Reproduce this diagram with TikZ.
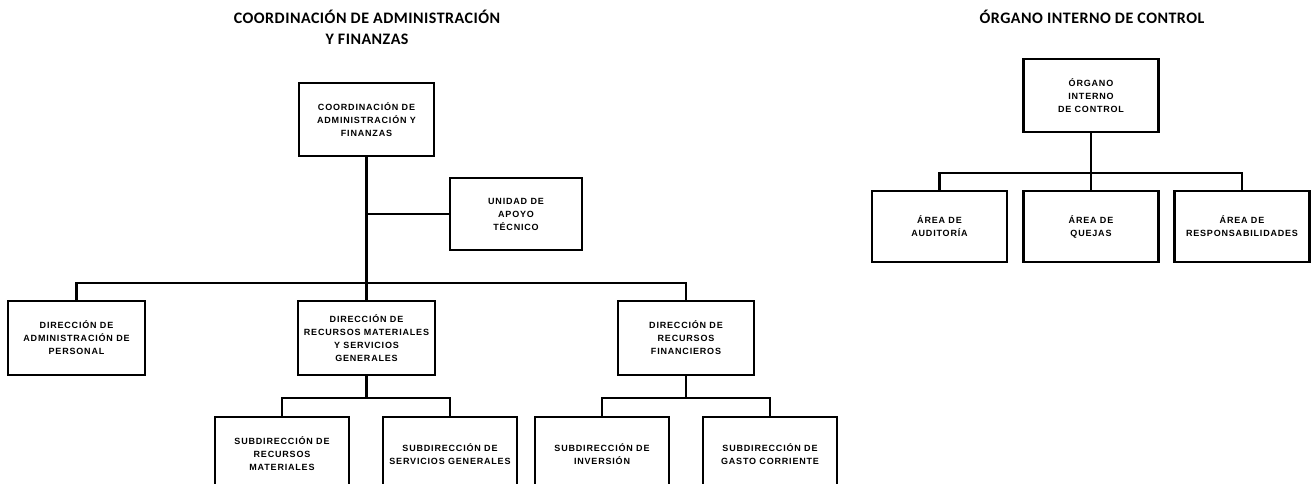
\documentclass[tikz,border=0pt]{standalone}
\usepackage{fontspec}
\newfontfamily\boxfont[LetterSpace=9]{Liberation Sans}
\newfontfamily\titlefont[LetterSpace=3]{Carlito}
\begin{document}
\begin{tikzpicture}[x=1pt,y=-1pt,
  unit/.style={draw=black, line width=2.6pt, fill=white, rectangle, inner sep=0pt,
    minimum width=135pt, minimum height=73pt, align=center,
    font=\boxfont\bfseries\fontsize{9}{13}\selectfont},
  ttl/.style={align=center, inner sep=0pt, font=\titlefont\bfseries\fontsize{16}{21}\selectfont},
  link/.style={draw=black, line width=2.6pt}]
\clip (0,0) rectangle (1312,484);
\fill[white] (0,0) rectangle (1312,484);

% titles
\node[ttl, anchor=north] (t1) at (367,10) {COORDINACIÓN DE ADMINISTRACIÓN\\Y FINANZAS};
\node[ttl, anchor=north] (t2) at (1092,10) {ÓRGANO INTERNO DE CONTROL};

% left chart
\node[unit] (caf) at (366.5,119.5) {COORDINACIÓN DE\\ADMINISTRACIÓN Y\\FINANZAS};
\node[unit, minimum width=132pt, minimum height=72pt] (uat) at (516,214) {UNIDAD DE\\APOYO\\TÉCNICO};
\node[unit, minimum width=137pt, minimum height=74pt] (dap) at (76.5,338) {DIRECCIÓN DE\\ADMINISTRACIÓN DE\\PERSONAL};
\node[unit, minimum width=137pt, minimum height=74pt] (drm) at (366.5,338) {DIRECCIÓN DE\\RECURSOS MATERIALES\\Y SERVICIOS\\GENERALES};
\node[unit, minimum width=136pt, minimum height=74pt] (drf) at (686,338) {DIRECCIÓN DE\\RECURSOS\\FINANCIEROS};
\node[unit, minimum width=134pt, minimum height=74pt] (srm) at (282,454) {SUBDIRECCIÓN DE\\RECURSOS\\MATERIALES};
\node[unit, minimum width=134pt, minimum height=74pt] (ssg) at (450,454) {SUBDIRECCIÓN DE\\SERVICIOS GENERALES};
\node[unit, minimum width=134pt, minimum height=74pt] (sin) at (602,454) {SUBDIRECCIÓN DE\\INVERSIÓN};
\node[unit, minimum width=134pt, minimum height=74pt] (sgc) at (770,454) {SUBDIRECCIÓN DE\\GASTO CORRIENTE};

\coordinate (bus) at (0,283);
\coordinate (sbus) at (0,398);
\draw[link] (caf.south) -- (drm.north);
\draw[link] (caf.south |- uat.west) -- (uat.west);
\draw[link] (dap.north) -- (dap.north |- bus) -- (drf.north |- bus) -- (drf.north);
\draw[link] (drm.south) -- (drm.south |- sbus);
\draw[link] (srm.north) -- (srm.north |- sbus) -- (ssg.north |- sbus) -- (ssg.north);
\draw[link] (drf.south) -- (drf.south |- sbus);
\draw[link] (sin.north) -- (sin.north |- sbus) -- (sgc.north |- sbus) -- (sgc.north);

% right chart
\node[unit] (oic) at (1091,95.5) {ÓRGANO\\INTERNO\\DE CONTROL};
\node[unit, minimum height=71pt] (aa) at (939.5,226.5) {ÁREA DE\\AUDITORÍA};
\node[unit, minimum height=71pt] (aq) at (1091,226.5) {ÁREA DE\\QUEJAS};
\node[unit, minimum height=71pt] (ar) at (1242,226.5) {ÁREA DE\\RESPONSABILIDADES};
\coordinate (obus) at (0,173);
\draw[link] (oic.south) -- (aq.north);
\draw[link] (aa.north) -- (aa.north |- obus) -- (ar.north |- obus) -- (ar.north);
\end{tikzpicture}
\end{document}
